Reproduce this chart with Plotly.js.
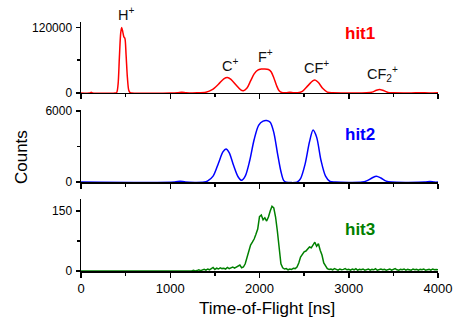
<!DOCTYPE html>
<html>
<head>
<meta charset="utf-8">
<script src="https://cdn.plot.ly/plotly-3.0.1.min.js"></script>
<style>html,body{margin:0;padding:0;background:#fff;}#chart{width:461px;height:323px;}</style>
</head>
<body>
<div id="chart"></div>
<script>
// hit1 (red) time-of-flight [ns] and counts
const hit1Tof = [0,100,115,130,380,400,415,430,445,456,468,480,492,505,520,535,550,570,1000,1080,1130,1180,1300,1400,1470,1540,1600,1640,1680,1740,1790,1820,1860,1900,1940,1980,2020,2060,2100,2130,2160,2190,2220,2250,2300,2340,2380,2430,2480,2540,2600,2625,2660,2710,2760,2820,3000,3200,3260,3310,3345,3380,3440,3500,3700,3800,3900,4000];
const hit1Counts = [0,0,1500,0,0,1000,15000,65000,110000,120000,112000,103000,100000,70000,28000,5000,500,0,0,500,1500,500,300,1500,6000,16000,26000,28500,25000,14000,5500,4200,9000,22000,35000,42000,43800,44000,43000,39000,28000,14000,4000,800,500,1500,500,300,3000,13000,22500,23500,19000,8000,1500,200,0,300,1500,5000,6300,5000,1000,200,0,500,0,300];

// hit2 (blue)
const hit2Tof = [0,1050,1110,1170,1380,1420,1480,1540,1590,1625,1660,1710,1760,1800,1840,1890,1940,1990,2040,2080,2120,2160,2200,2240,2270,2300,2420,2460,2510,2560,2600,2640,2690,2740,2790,2850,3150,3200,3260,3310,3360,3420,3480,3850,3910,3960,4000];
const hit2Counts = [0,0,80,0,0,100,500,1600,2550,2800,2500,1400,450,150,500,1800,3600,4800,5150,5200,5050,4200,2500,900,150,0,0,300,1500,3400,4400,3800,1800,500,50,0,0,100,350,500,350,80,0,0,50,0,0];

// hit3 (green), sampled every 20 ns from 0 ns
const hit3Start = 0;
const hit3Step = 20;
const hit3Counts = [
0,0,0,0,0,0,0,0,0,0,
0,0,0,0,0,0,0,0,0,0,
0,0,0,0,0,0,0,0,0,0,
0,0,0,0,0,0,0,0,0,0,
0,0,0,0,0,0,0,0,0,0,
0,0,0,0,0,0,0,0,0,0,
0,1,0,2,0,1,3,1,2,4,
2,5,3,6,9,4,7,5,8,6,
7,5,9,6,8,10,7,9,12,15,
8,10,18,32,50,65,72,80,92,105,
136,140,128,133,125,135,150,162,158,135,
100,55,18,8,5,6,3,5,4,7,
6,10,20,35,42,48,50,55,60,58,
65,72,62,68,52,40,20,12,6,4,
5,3,6,4,2,5,3,4,6,3,
4,2,5,3,6,2,4,3,5,2,
3,5,2,4,3,6,2,4,5,3,
4,2,3,5,2,4,6,3,2,4,
3,5,2,4,3,2,5,3,4,2,
4,3,5,2,3,4,2,5,3,4,
3];

const peakLabels = ['H<sup>+</sup>','C<sup>+</sup>','F<sup>+</sup>','CF<sup>+</sup>','CF<sub>2</sub><sup>+</sup>'];
const peakLabelTof = [504,1669,2067,2644,3373];
const hitNames = ['hit1','hit2','hit3'];
const xTickStep = 1000;

const FONT = '"Liberation Sans", Arial, Helvetica, sans-serif';

const traces = [
  {x: hit1Tof, y: hit1Counts, xaxis:'x3', yaxis:'y3', type:'scatter', mode:'lines',
   line:{color:'#ff0000', width:1.5, shape:'spline', smoothing:0.8}},
  {x: hit2Tof, y: hit2Counts, xaxis:'x2', yaxis:'y2', type:'scatter', mode:'lines',
   line:{color:'#0000ff', width:1.5, shape:'spline', smoothing:0.8}},
  {x0: hit3Start, dx: hit3Step, y: hit3Counts, xaxis:'x', yaxis:'y', type:'scatter', mode:'lines',
   line:{color:'#008000', width:1.5}}
];

function xAx(anchor, labels) {
  return {
    anchor: anchor, domain:[0,1], range:[0,4000], showline:true, linecolor:'#000', linewidth:1.5,
    ticks:'outside', ticklen:5, tickwidth:1.5, tickcolor:'#000', dtick:xTickStep, tick0:0,
    minor:{dtick:500, ticks:'outside', ticklen:3, tickwidth:1.5, tickcolor:'#000', showgrid:false},
    showticklabels: labels, tickfont:{family:FONT, size:13, color:'#000'},
    showgrid:false, zeroline:false, layer:'below traces', fixedrange:true
  };
}
function yAx(anchor, dom, rng, dt) {
  return {
    anchor: anchor, domain: dom, range: rng, showline:true, linecolor:'#000', linewidth:1.5,
    ticks:'outside', ticklen:4, tickwidth:1.5, tickcolor:'#000', dtick:dt, tick0:0, tickformat:'d',
    minor:{dtick:dt/2, ticks:'outside', ticklen:3, tickwidth:1.5, tickcolor:'#000', showgrid:false},
    tickfont:{family:FONT, size:12, color:'#000'}, ticklabelstandoff:1,
    showgrid:false, zeroline:false, layer:'below traces', fixedrange:true
  };
}

const peakY = [1.032, 0.827, 0.863, 0.820, 0.793];
const annotations = peakLabels.map((t,i)=>({
  text:t, x:peakLabelTof[i], xref:'x', y:peakY[i], yref:'paper', xanchor:'center', yanchor:'middle',
  showarrow:false, font:{family:FONT, size:14.5, color:'#111'}
}));
const hitColors = ['#ff0000','#0000ff','#008000'];
const hitY = [0.955, 0.548, 0.165];
hitNames.forEach((t,i)=>annotations.push({
  text:'<b>'+t+'</b>', x:3126, xref:'x', y:hitY[i], yref:'paper', xanchor:'center', yanchor:'middle',
  showarrow:false, font:{family:FONT, size:17, color:hitColors[i]}
}));
annotations.push({text:'Time-of-Flight [ns]', x:0.52, xref:'paper', y:-0.149, yref:'paper',
  xanchor:'center', yanchor:'middle', showarrow:false, font:{family:FONT, size:17, color:'#000'}});
annotations.push({text:'Counts', x:-0.165, xref:'paper', y:0.458, yref:'paper', textangle:-90,
  xanchor:'center', yanchor:'middle', showarrow:false, font:{family:FONT, size:17, color:'#000'}});

const layout = {
  width:461, height:323, margin:{l:81, r:23, t:22, b:52},
  paper_bgcolor:'#fff', plot_bgcolor:'#fff', showlegend:false,
  font:{family:FONT, color:'#000'},
  xaxis: xAx('y', true),
  xaxis2: xAx('y2', false),
  xaxis3: xAx('y3', false),
  yaxis: yAx('x', [0,0.289], [0,180], 150),
  yaxis2: yAx('x2', [0.357,0.647], [0,6100], 6000),
  yaxis3: yAx('x3', [0.715,1], [0,130000], 120000),
  annotations: annotations
};

Plotly.newPlot('chart', traces, layout, {staticPlot:true, displayModeBar:false});
</script>
</body>
</html>
